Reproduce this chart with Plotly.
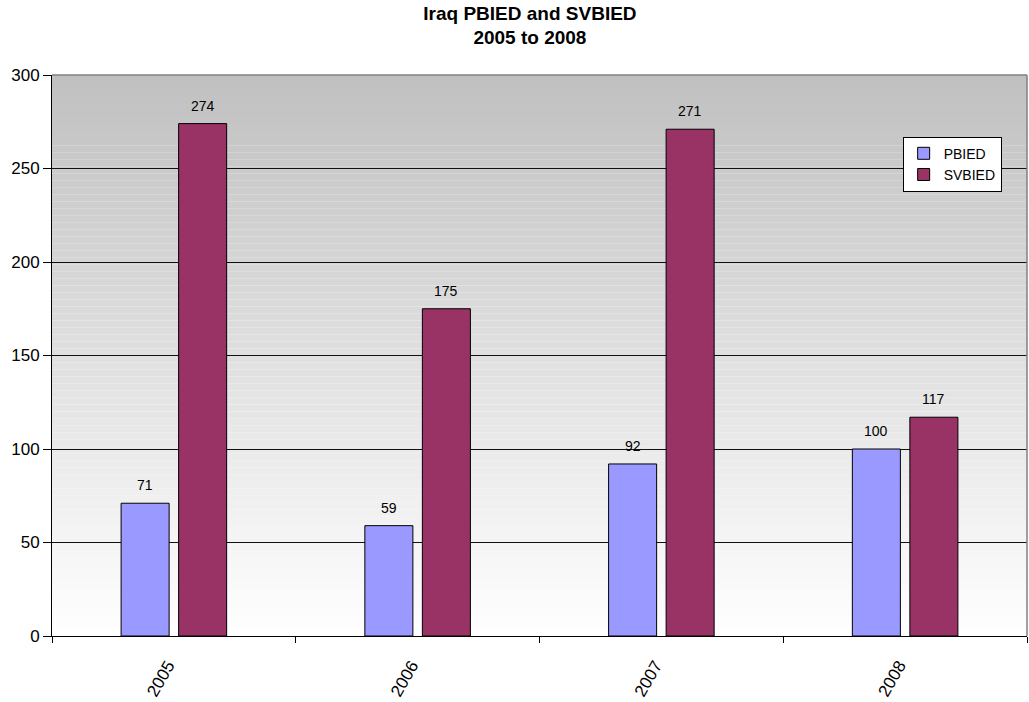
import plotly.graph_objects as go

# Yearly counts of suicide bombing attacks
years = ["2005", "2006", "2007", "2008"]
pbied = [71, 59, 92, 100]
svbied = [274, 175, 271, 117]

FONT = "Liberation Sans, Arial, sans-serif"
COL_PB = "#9999FF"
COL_SV = "#993366"

fig = go.Figure()
fig.add_trace(go.Bar(name="PBIED", x=years, y=pbied, marker=dict(color=COL_PB, line=dict(color="black", width=1))))
fig.add_trace(go.Bar(name="SVBIED", x=years, y=svbied, marker=dict(color=COL_SV, line=dict(color="black", width=1))))

# value labels above each bar (x given as category index)
half = 28.75
for i, (a, b) in enumerate(zip(pbied, svbied)):
    for val, dx in ((a, -half), (b, half)):
        fig.add_annotation(x=i, y=val, text=str(val), xshift=dx, yshift=8,
                           showarrow=False, yanchor="bottom",
                           font=dict(family=FONT, size=14, color="black"))

# vertical grey-to-white gradient behind the plot area
shapes = []
n = 80
for k in range(n):
    f = (k + 0.5) / n  # 0 at bottom, 1 at top
    g = int(round(255 - (255 - 192) * f))
    shapes.append(dict(type="rect", xref="paper", yref="paper",
                       x0=0, x1=1, y0=k / n, y1=(k + 1) / n,
                       fillcolor=f"rgb({g},{g},{g})", line=dict(width=0), layer="below"))
# grey frame on top and right
shapes.append(dict(type="line", xref="paper", yref="paper", x0=0, x1=1, y0=1, y1=1,
                   line=dict(color="#808080", width=1.5)))
shapes.append(dict(type="line", xref="paper", yref="paper", x0=1, x1=1, y0=0, y1=1,
                   line=dict(color="#808080", width=1.5)))

fig.update_layout(
    width=1029, height=702,
    margin=dict(l=52, r=2, t=75, b=66),
    paper_bgcolor="white",
    plot_bgcolor="rgba(0,0,0,0)",
    font=dict(family=FONT, color="black"),
    title=dict(text="<b>Iraq PBIED and SVBIED<br>2005 to 2008</b>", x=0.515, xanchor="center",
               y=0.972, yanchor="top", font=dict(family=FONT, size=19, color="black")),
    barmode="group", bargap=0.528, bargroupgap=0.165,
    shapes=shapes,
    showlegend=True,
    legend=dict(x=0.974, xanchor="right", y=0.89, yanchor="top",
                bgcolor="white", bordercolor="black", borderwidth=1,
                font=dict(family=FONT, size=14, color="black"),
                tracegroupgap=0, itemwidth=30),
    xaxis=dict(type="category", range=[-0.5, 3.5], showgrid=False, showline=True,
               linecolor="black", linewidth=1,
               ticks="outside", tickson="boundaries", ticklen=6, tickcolor="black",
               tickangle=-60, ticklabelstandoff=12, ticklabelshift=-6,
               tickfont=dict(family=FONT, size=17, color="black")),
    yaxis=dict(range=[0, 300], dtick=50, showgrid=True, gridcolor="#111111", gridwidth=1,
               showline=True, linecolor="black", linewidth=1, zeroline=False,
               ticks="outside", ticklen=8, tickcolor="black",
               tickfont=dict(family=FONT, size=17, color="black")),
)

fig.write_html("out.html")
